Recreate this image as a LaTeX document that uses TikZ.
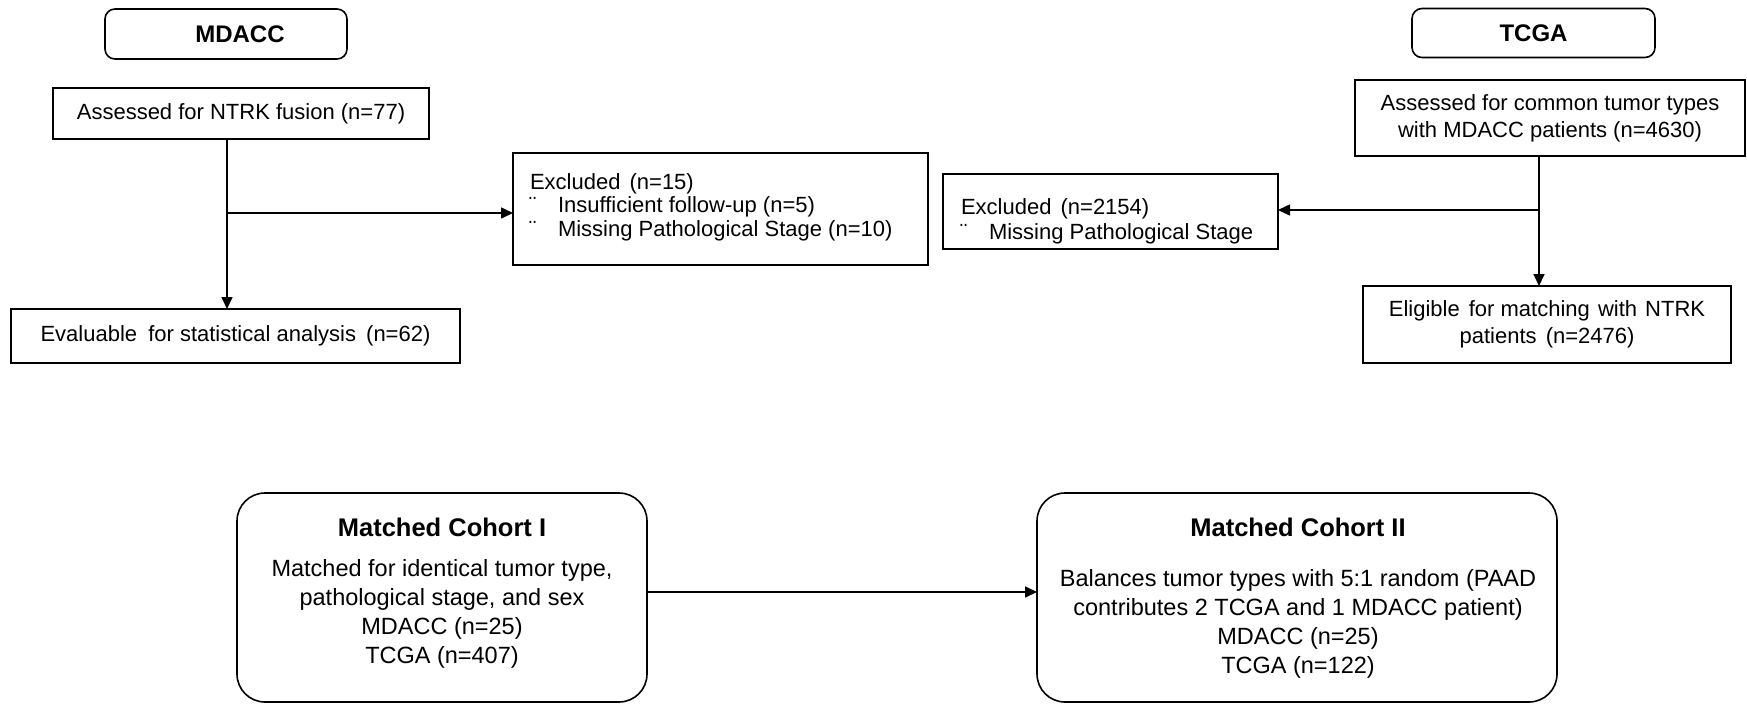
\documentclass[tikz,border=0pt]{standalone}
\usepackage{fontspec}
\setmainfont{Liberation Sans}
\usetikzlibrary{arrows.meta}
\newcommand\fTop{\fontsize{22}{27}\selectfont}
\newcommand\fHead{\fontsize{24}{28}\selectfont\bfseries}
\newcommand\fCoh{\fontsize{23.5}{29}\selectfont}
\newcommand\fCohT{\fontsize{25.5}{30}\selectfont\bfseries}
\tikzset{
  bx/.style={draw=black, line width=1.6pt, inner sep=0pt, outer sep=0pt, anchor=center, align=center, font=\fTop},
  headbox/.style={bx, rounded corners=10pt, font=\fHead},
  cohbox/.style={bx, rounded corners=28pt},
  txt/.style={inner sep=0pt, outer sep=0pt, font=\fTop},
  arr/.style={line width=1.6pt, -{Triangle[length=12pt,width=11pt]}},
  ln/.style={line width=1.6pt}
}
\begin{document}
\begin{tikzpicture}[x=1pt,y=-1pt]
\useasboundingbox (0,0) rectangle (1747,704);
% ---- left column (MDACC)
\node[headbox, minimum width=242pt, minimum height=50pt] (mdacc) at (226,34) {\hspace*{28pt}MDACC};
\node[bx, minimum width=376pt, minimum height=51pt] (as1) at (241,113.5) {Assessed for NTRK fusion (n=77)};
\node[bx, minimum width=449pt, minimum height=54pt] (ev1) at (235.5,336) {Evaluable\hspace{5pt} for statistical analysis\hspace{4pt} (n=62)};
\node[bx, minimum width=415pt, minimum height=112pt] (ex1) at (720.5,209) {};
\node[txt, anchor=base west] (ex1a) at (530,189) {Excluded\hspace{3pt} (n=15)};
\node[txt, anchor=base west] (ex1b) at (529,212.5) {\makebox[29pt][l]{¨}Insufficient follow-up (n=5)};
\node[txt, anchor=base west] (ex1c) at (529,236) {\makebox[29pt][l]{¨}Missing Pathological Stage (n=10)};
\coordinate (br1) at (227,213);
\draw[ln] (as1.south -| br1) -- (br1);
\draw[arr] (br1) -- (ev1.north -| br1);
\draw[arr] (br1) -- (br1 -| ex1.west);
% ---- right column (TCGA)
\node[headbox, minimum width=243pt, minimum height=49pt] (tcga) at (1533.5,33) {TCGA};
\node[bx, minimum width=390pt, minimum height=76pt] (as2) at (1550,118) {Assessed for common tumor types\\with MDACC patients (n=4630)};
\node[bx, minimum width=368pt, minimum height=77pt] (el2) at (1547,324.5) {Eligible\hspace{3pt} for matching\hspace{2pt} with\hspace{2pt} NTRK\\patients\hspace{3pt} (n=2476)};
\node[bx, minimum width=335pt, minimum height=75pt] (ex2) at (1110.5,211.5) {};
\node[txt, anchor=base west] (ex2a) at (961,214) {Excluded\hspace{3pt} (n=2154)};
\node[txt, anchor=base west] (ex2b) at (960,239) {\makebox[29pt][l]{¨}Missing Pathological Stage};
\coordinate (br2) at (1539,210);
\draw[ln] (as2.south -| br2) -- (br2);
\draw[arr] (br2) -- (el2.north -| br2);
\draw[arr] (br2) -- (br2 -| ex2.east);
% ---- matched cohorts
\node[cohbox, minimum width=410pt, minimum height=209pt] (c1) at (442,597.5) {};
\node[txt, font=\fCohT, anchor=base] (c1t) at (442,536) {Matched Cohort I};
\node[txt, font=\fCoh, align=center] (c1b) at (442,614) {Matched for identical tumor type,\\pathological stage, and sex\\MDACC (n=25)\\TCGA (n=407)};
\node[cohbox, minimum width=520pt, minimum height=209pt] (c2) at (1297,597.5) {};
\node[txt, font=\fCohT, anchor=base] (c2t) at (1298,536) {Matched Cohort II};
\node[txt, font=\fCoh, align=center] (c2b) at (1298,624) {Balances tumor types with 5:1 random (PAAD\\contributes 2 TCGA and 1 MDACC patient)\\MDACC (n=25)\\TCGA (n=122)};
\coordinate (ca) at (0,592);
\draw[arr] (c1.east |- ca) -- (c2.west |- ca);
\end{tikzpicture}
\end{document}
